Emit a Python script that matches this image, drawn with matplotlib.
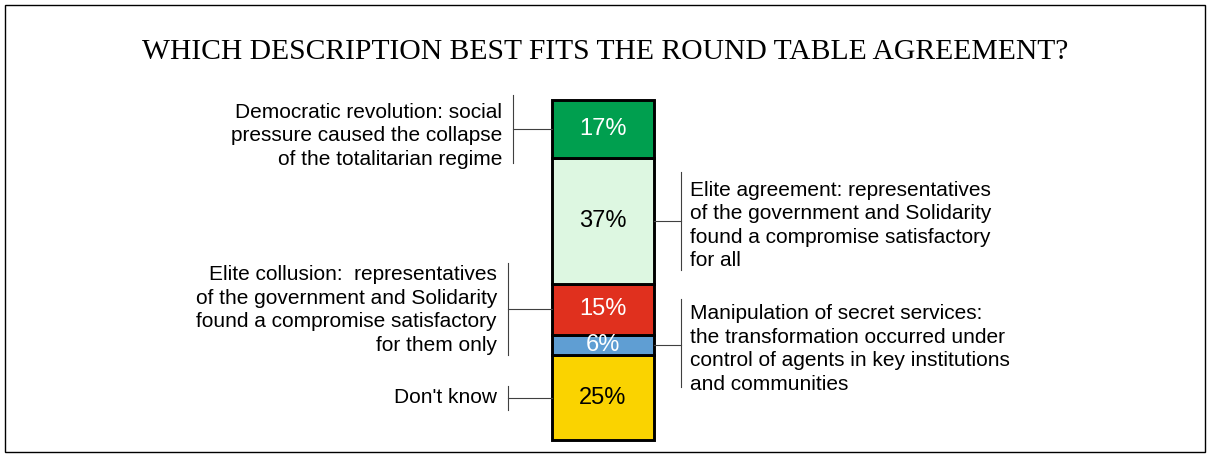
import matplotlib.pyplot as plt
import numpy as np
from matplotlib.patches import Rectangle

plt.rcParams['font.family'] = ['Liberation Sans', 'DejaVu Sans']

# stacked from the bottom of the bar upwards
answers = [
    "Don't know",
    "Manipulation of secret services:\nthe transformation occurred under\ncontrol of agents in key institutions\nand communities",
    "Elite collusion:  representatives\nof the government and Solidarity\nfound a compromise satisfactory\nfor them only",
    "Elite agreement: representatives\nof the government and Solidarity\nfound a compromise satisfactory\nfor all",
    "Democratic revolution: social\npressure caused the collapse\nof the totalitarian regime",
]
shares = [25, 6, 15, 37, 17]
colors = ['#FAD300', '#5F9ED3', '#E0301E', '#DDF7E1', '#009F4F']
value_colors = ['black', 'white', 'white', 'black', 'white']
sides = ['left', 'right', 'left', 'right', 'left']

W, H = 1210, 457
fig = plt.figure(figsize=(W / 100, H / 100), dpi=100)

# frame around the whole chart
fig.patches.append(Rectangle((5 / W, 5 / H), 1200 / W, 447 / H, transform=fig.transFigure,
                             fill=False, edgecolor='black', linewidth=1.0))

fig.text(0.5, 1 - 52 / H, "WHICH DESCRIPTION BEST FITS THE ROUND TABLE AGREEMENT?",
         ha='center', va='center', fontsize=21.3, family='Liberation Serif')

bar_left, bar_right, bar_top, bar_bottom = 552, 654, 100, 440
ax = fig.add_axes([bar_left / W, 1 - bar_bottom / H, (bar_right - bar_left) / W, (bar_bottom - bar_top) / H])
ax.set_xlim(0, 1)
ax.set_ylim(0, sum(shares))
ax.axis('off')

bottoms = np.concatenate([[0], np.cumsum(shares)[:-1]])
ax.bar([0.5] * len(shares), shares, bottom=bottoms, width=1.0, color=colors,
       edgecolor='black', linewidth=2.1, clip_on=False)

px_per_y = (bar_bottom - bar_top) / sum(shares)


def px_x(px):
    return (px - bar_left) / (bar_right - bar_left)


# vertical extent of each bracket above/below the leader, in pixels
bracket_span = [(12, 12), (46, 42), (46, 46), (49, 49), (34, 34)]
text_x = [497, 690, 497, 690, 502]
text_dy = [0, 4, 1, 5, 7]  # push label blocks down a few pixels
bracket_x = [508, 681, 508, 681, 513]

for i, (val, b) in enumerate(zip(shares, bottoms)):
    yc = b + val / 2
    ax.text(0.5, yc, f"{val}%", ha='center', va='center', fontsize=17,
            color=value_colors[i])
    up, down = bracket_span[i]
    bx = px_x(bracket_x[i])
    edge = 0 if sides[i] == 'left' else 1
    ax.plot([bx, edge], [yc, yc], color='#404040', lw=0.8, clip_on=False)
    ax.plot([bx, bx], [yc - down / px_per_y, yc + up / px_per_y], color='#404040',
            lw=0.8, clip_on=False)
    ha = 'right' if sides[i] == 'left' else 'left'
    ax.text(px_x(text_x[i]), yc - text_dy[i] / px_per_y, answers[i], ha=ha, va='center',
            fontsize=15, multialignment=ha, linespacing=1.3, clip_on=False)

fig.savefig('out.png', dpi=100)
